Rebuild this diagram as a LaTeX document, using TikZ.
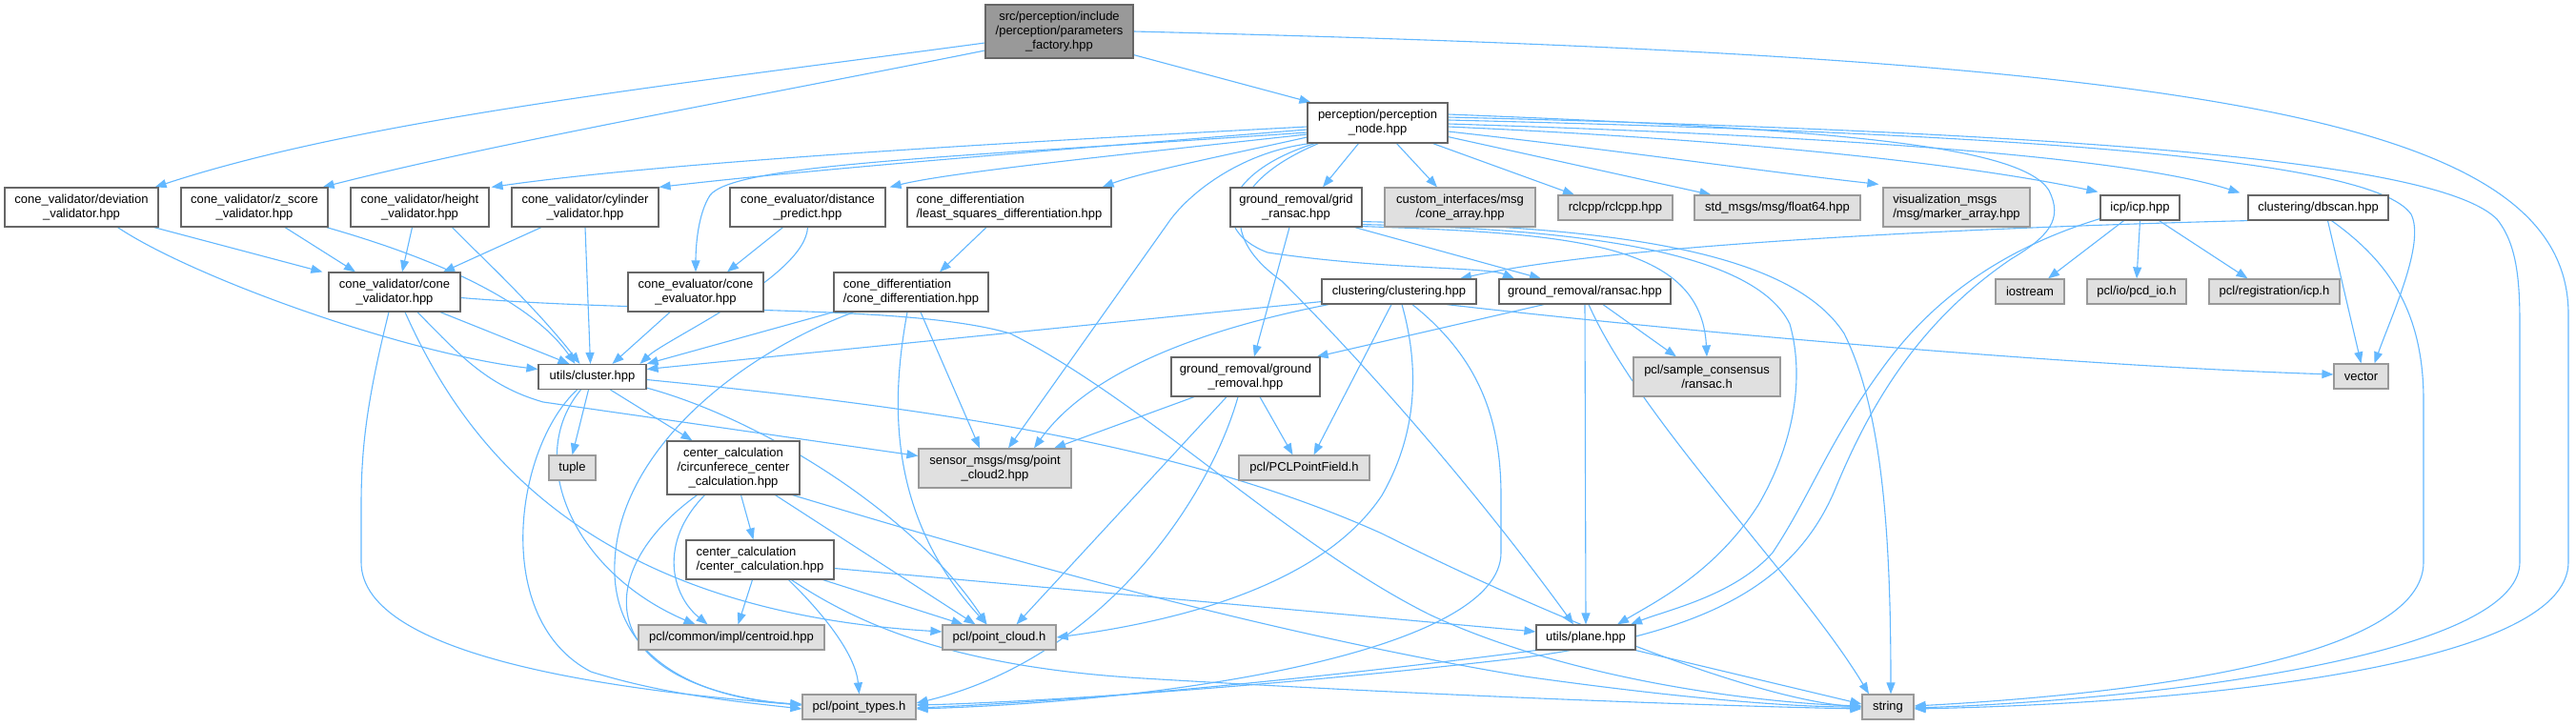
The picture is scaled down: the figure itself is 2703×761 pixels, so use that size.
\documentclass[tikz,border=0pt]{standalone}
\usepackage{fontspec}
\setmainfont{Liberation Sans}
\usetikzlibrary{arrows.meta,backgrounds}
\definecolor{eb}{HTML}{63B8FF}
\definecolor{gA}{HTML}{666666}
\definecolor{gB}{HTML}{999999}
\definecolor{gC}{HTML}{E0E0E0}
\tikzset{
  nd/.style={draw=gA, fill=white, line width=1.2pt, inner sep=0pt, font=\fontsize{13}{15}\selectfont, align=center, text=black},
  ext/.style={nd, draw=gB, fill=gC},
  root/.style={nd, draw=gA, fill=gB},
  lnk/.style={draw=eb, line width=1.1pt, -{Triangle[length=12pt,width=9pt]}},
}
\begin{document}
\begin{tikzpicture}[x=1pt,y=-1pt]
\useasboundingbox (0,0) rectangle (2703,761);
% nodes
\node[root, minimum width=155pt, minimum height=56pt] (P) at (1111.5,33) {src/perception/include\\/perception/parameters\\\_factory.hpp};
\node[nd, minimum width=147pt, minimum height=42pt] (N) at (1445.5,129) {perception/perception\\\_node.hpp};
\node[nd, minimum width=161pt, minimum height=41pt] (dev) at (85.5,217.5) {cone\_validator/deviation\\\_validator.hpp};
\node[nd, minimum width=154pt, minimum height=41pt] (zs) at (267,217.5) {cone\_validator/z\_score\\\_validator.hpp};
\node[nd, minimum width=145pt, minimum height=41pt] (hv) at (440.5,217.5) {cone\_validator/height\\\_validator.hpp};
\node[nd, minimum width=154pt, minimum height=41pt] (cyl) at (614,217.5) {cone\_validator/cylinder\\\_validator.hpp};
\node[nd, minimum width=163pt, minimum height=41pt] (dp) at (847.5,217.5) {cone\_evaluator/distance\\\_predict.hpp};
\node[nd, align=left, minimum width=214pt, minimum height=41pt] (lsq) at (1059,217.5) {cone\_differentiation\\/least\_squares\_differentiation.hpp};
\node[nd, minimum width=138pt, minimum height=41pt] (grid) at (1360,217.5) {ground\_removal/grid\\\_ransac.hpp};
\node[ext, minimum width=158pt, minimum height=41pt] (cust) at (1532,217.5) {custom\_interfaces/msg\\/cone\_array.hpp};
\node[ext, minimum width=120pt, minimum height=26pt] (rcl) at (1695,218) {rclcpp/rclcpp.hpp};
\node[ext, minimum width=174pt, minimum height=26pt] (std) at (1865,218) {std\_msgs/msg/float64.hpp};
\node[ext, align=left, minimum width=154pt, minimum height=41pt] (vis) at (2053,217.5) {visualization\_msgs\\/msg/marker\_array.hpp};
\node[nd, minimum width=83pt, minimum height=26pt] (icp) at (2245.5,218) {icp/icp.hpp};
\node[nd, minimum width=147pt, minimum height=26pt] (dbs) at (2432.5,218) {clustering/dbscan.hpp};
\node[nd, minimum width=138pt, minimum height=41pt] (cv) at (414,306.5) {cone\_validator/cone\\\_validator.hpp};
\node[nd, minimum width=142pt, minimum height=41pt] (ce) at (730,306.5) {cone\_evaluator/cone\\\_evaluator.hpp};
\node[nd, align=left, minimum width=162pt, minimum height=41pt] (cd) at (956,306.5) {cone\_differentiation\\/cone\_differentiation.hpp};
\node[nd, minimum width=162pt, minimum height=26pt] (clu) at (1468,306) {clustering/clustering.hpp};
\node[nd, minimum width=180pt, minimum height=26pt] (ran) at (1663,306) {ground\_removal/ransac.hpp};
\node[ext, minimum width=72pt, minimum height=26pt] (ios) at (2130,306) {iostream};
\node[ext, minimum width=104pt, minimum height=26pt] (pcd) at (2242,306) {pcl/io/pcd\_io.h};
\node[ext, minimum width=137pt, minimum height=26pt] (icph) at (2386.5,306) {pcl/registration/icp.h};
\node[nd, minimum width=113pt, minimum height=26pt] (cl) at (621.5,395.5) {utils/cluster.hpp};
\node[nd, minimum width=156pt, minimum height=41pt] (gr) at (1307,395.5) {ground\_removal/ground\\\_removal.hpp};
\node[ext, minimum width=154pt, minimum height=41pt] (sac) at (1791,395.5) {pcl/sample\_consensus\\/ransac.h};
\node[ext, minimum width=57pt, minimum height=26pt] (vec) at (2477.5,395) {vector};
\node[ext, minimum width=49pt, minimum height=26pt] (tup) at (600.5,491) {tuple};
\node[nd, minimum width=139pt, minimum height=56pt] (circ) at (769.5,491) {center\_calculation\\/circunferece\_center\\\_calculation.hpp};
\node[ext, minimum width=160pt, minimum height=41pt] (sm) at (1044,491.5) {sensor\_msgs/msg/point\\\_cloud2.hpp};
\node[ext, minimum width=137pt, minimum height=26pt] (pf) at (1368.5,491) {pcl/PCLPointField.h};
\node[nd, align=left, minimum width=155pt, minimum height=41pt] (cc) at (797.5,587.5) {center\_calculation\\/center\_calculation.hpp};
\node[ext, minimum width=195pt, minimum height=26pt] (cen) at (767.5,669) {pcl/common/impl/centroid.hpp};
\node[ext, minimum width=119pt, minimum height=26pt] (pcc) at (1048.5,669) {pcl/point\_cloud.h};
\node[nd, minimum width=104pt, minimum height=26pt] (plane) at (1664,669) {utils/plane.hpp};
\node[ext, minimum width=119pt, minimum height=26pt] (ptypes) at (901.5,742) {pcl/point\_types.h};
\node[ext, minimum width=54pt, minimum height=26pt] (strg) at (1981,742) {string};
% edges
\begin{pgfonlayer}{background}
\fill[white] (0,0) rectangle (2703,761);
% root
\draw[lnk] ([shift={(0,12)}]P.west) .. controls (700,90) and (380,125) .. ([shift={(-4,0)}]dev.north east);
\draw[lnk] ([shift={(0,20)}]P.west) .. controls (800,100) and (520,150) .. ([shift={(-6,0)}]zs.north east);
\draw[lnk] ([shift={(0,-4)}]P.south east) -- ([shift={(4,0)}]N.north west);
\draw[lnk] (P.east) .. controls (2300,60) and (2695,120) .. (2695,330) -- (2695,590) .. controls (2695,700) and (2300,738) .. ([shift={(0,2)}]strg.east);
% perception node
\draw[lnk] ([shift={(0,4)}]N.west) .. controls (1050,150) and (700,170) .. ([shift={(2,0)}]hv.north east);
\draw[lnk] ([shift={(0,7)}]N.west) .. controls (1100,158) and (850,178) .. (cyl.north east);
\draw[lnk] ([shift={(0,10)}]N.west) .. controls (1000,165) and (770,172) .. (745,205) .. controls (732,225) and (730,260) .. (ce.north);
\draw[lnk] ([shift={(0,12)}]N.west) .. controls (1200,160) and (1000,180) .. ([shift={(4,0)}]dp.north east);
\draw[lnk] ([shift={(0,15)}]N.west) .. controls (1300,160) and (1200,180) .. ([shift={(-10,0)}]lsq.north east);
\draw[lnk] ([shift={(3,0)}]N.south west) .. controls (1300,160) and (1245,205) .. (1225,235) -- ([shift={(14,0)}]sm.north);
\draw[lnk] ([shift={(8,0)}]N.south west) .. controls (1285,180) and (1265,240) .. (1330,265) .. controls (1450,283) and (1560,280) .. ([shift={(-74,0)}]ran.north);
\draw[lnk] ([shift={(12,0)}]N.south west) .. controls (1290,190) and (1275,245) .. (1345,295) .. controls (1450,400) and (1560,530) .. ([shift={(-13,0)}]plane.north);
\draw[lnk] ([shift={(-20,0)}]N.south) -- ([shift={(28,0)}]grid.north);
\draw[lnk] ([shift={(20,0)}]N.south) -- ([shift={(-24,0)}]cust.north);
\draw[lnk] ([shift={(-16,0)}]N.south east) -- ([shift={(-43,0)}]rcl.north);
\draw[lnk] ([shift={(0,-7)}]N.south east) -- ([shift={(18,0)}]std.north west);
\draw[lnk] ([shift={(0,9)}]N.east) .. controls (1700,158) and (1850,180) .. ([shift={(-4,-3)}]vis.north west);
\draw[lnk] ([shift={(0,4)}]N.east) .. controls (1900,150) and (2100,180) .. ([shift={(-2,-3)}]icp.north west);
\draw[lnk] ([shift={(0,1)}]N.east) .. controls (2000,145) and (2250,170) .. ([shift={(-8,-2)}]dbs.north west);
\draw[lnk] ([shift={(0,-3)}]N.east) .. controls (2100,140) and (2490,165) .. (2530,225) .. controls (2545,255) and (2510,330) .. ([shift={(14,0)}]vec.north);
\draw[lnk] ([shift={(0,-6)}]N.east) .. controls (2200,140) and (2560,170) .. (2620,230) .. controls (2640,255) and (2644,290) .. (2644,340) -- (2644,590) .. controls (2644,690) and (2250,735) .. ([shift={(0,1)}]strg.east);
\draw[lnk] ([shift={(0,-9)}]N.east) .. controls (1900,135) and (2120,150) .. (2150,200) .. controls (2165,230) and (2150,248) .. (2110,272) .. controls (2010,340) and (1960,430) .. (1925,515) .. controls (1880,620) and (1780,665) .. (1600,690) .. controls (1300,725) and (1050,738) .. ([shift={(0,-2)}]ptypes.east);
% icp
\draw[lnk] ([shift={(0,-2)}]icp.south west) .. controls (2120,255) and (2040,300) .. (1980,380) .. controls (1920,460) and (1900,520) .. (1860,580) .. controls (1820,625) and (1750,640) .. ([shift={(47,0)}]plane.north);
\draw[lnk] ([shift={(-17,0)}]icp.south) -- ([shift={(19,0)}]ios.north);
\draw[lnk] (icp.south) -- (pcd.north);
\draw[lnk] ([shift={(20,0)}]icp.south) -- ([shift={(-28,0)}]icph.north);
% grid ransac
\draw[lnk] ([shift={(0,-3)}]grid.south east) .. controls (1650,240) and (1840,262) .. (1878,340) .. controls (1895,400) and (1880,470) .. (1845,530) .. controls (1800,600) and (1740,630) .. ([shift={(33,0)}]plane.north);
\draw[lnk] ([shift={(0,-6)}]grid.south east) .. controls (1700,238) and (1880,265) .. (1935,350) .. controls (1975,430) and (1984,560) .. ([shift={(3,0)}]strg.north);
\draw[lnk] ([shift={(0,-1)}]grid.south east) .. controls (1650,245) and (1785,255) .. (sac.north);
\draw[lnk] ([shift={(-8,0)}]grid.south east) -- ([shift={(-46,0)}]ran.north);
\draw[lnk] ([shift={(-7,0)}]grid.south) -- ([shift={(9,0)}]gr.north);
% dbscan
\draw[lnk] (dbs.south west) .. controls (2100,238) and (1700,255) .. ([shift={(64,0)}]clu.north);
\draw[lnk] ([shift={(10,0)}]dbs.south) -- (vec.north);
\draw[lnk] ([shift={(14,0)}]dbs.south) .. controls (2500,270) and (2543,320) .. (2543,420) -- (2543,590) .. controls (2543,690) and (2250,728) .. ([shift={(0,-1)}]strg.east);
% ransac
\draw[lnk] ([shift={(-43,0)}]ran.south) -- ([shift={(-4,0)}]gr.north east);
\draw[lnk] (ran.south) -- (plane.north);
\draw[lnk] ([shift={(4,0)}]ran.south) .. controls (1720,440) and (1890,610) .. ([shift={(-20,0)}]strg.north);
\draw[lnk] ([shift={(19,0)}]ran.south) -- ([shift={(-32,0)}]sac.north);
% clustering
\draw[lnk] ([shift={(0,-3)}]clu.south west) -- ([shift={(0,-8)}]cl.east);
\draw[lnk] ([shift={(-74,0)}]clu.south) .. controls (1290,340) and (1150,380) .. ([shift={(41,0)}]sm.north);
\draw[lnk] ([shift={(-8,0)}]clu.south) -- ([shift={(10,0)}]pf.north);
\draw[lnk] ([shift={(3,0)}]clu.south) .. controls (1488,380) and (1490,450) .. (1450,520) .. controls (1390,610) and (1250,650) .. (pcc.east);
\draw[lnk] ([shift={(14,0)}]clu.south) .. controls (1545,370) and (1575,430) .. (1575,520) -- (1575,580) .. controls (1575,680) and (1250,735) .. ([shift={(0,2)}]ptypes.east);
\draw[lnk] ([shift={(50,0)}]clu.south) .. controls (1800,352) and (2200,385) .. ([shift={(0,-2)}]vec.west);
% ground removal
\draw[lnk] ([shift={(-54,0)}]gr.south) -- ([shift={(62,0)}]sm.north);
\draw[lnk] ([shift={(15,0)}]gr.south) -- ([shift={(-12,0)}]pf.north);
\draw[lnk] ([shift={(-20,0)}]gr.south) -- ([shift={(18,0)}]pcc.north);
\draw[lnk] ([shift={(-8,0)}]gr.south) .. controls (1270,520) and (1160,690) .. ([shift={(0,-4)}]ptypes.east);
% plane
\draw[lnk] (plane.south west) .. controls (1400,710) and (1150,735) .. ([shift={(0,1)}]ptypes.east);
\draw[lnk] (plane.south east) -- ([shift={(0,-3)}]strg.west);
% cone validator
\draw[lnk] ([shift={(48,0)}]cv.south) -- ([shift={(-24,0)}]cl.north);
\draw[lnk] ([shift={(-6,0)}]cv.south) .. controls (385,420) and (379,470) .. (379,530) -- (379,590) .. controls (379,690) and (650,725) .. ([shift={(0,-2)}]ptypes.west);
\draw[lnk] ([shift={(24,0)}]cv.south) .. controls (480,370) and (510,405) .. (570,422) -- ([shift={(0,-13)}]sm.west);
\draw[lnk] ([shift={(11,0)}]cv.south) .. controls (480,450) and (600,640) .. ([shift={(0,-6)}]pcc.west);
\draw[lnk] ([shift={(0,6)}]cv.east) .. controls (700,330) and (950,318) .. (1060,350) .. controls (1200,420) and (1350,570) .. (1500,645) .. controls (1650,715) and (1850,738) .. ([shift={(0,-1)}]strg.west);
% cluster
\draw[lnk] ([shift={(-4,0)}]cl.south) -- (tup.north);
\draw[lnk] ([shift={(19,0)}]cl.south) -- ([shift={(-43,0)}]circ.north);
\draw[lnk] ([shift={(0,-2)}]cl.south east) .. controls (800,440) and (960,540) .. ([shift={(-13,0)}]pcc.north);
\draw[lnk] ([shift={(0,3)}]cl.east) .. controls (1000,430) and (1250,470) .. (1450,560) .. controls (1650,660) and (1850,735) .. (strg.west);
\draw[lnk] ([shift={(-16,0)}]cl.south) .. controls (540,470) and (515,650) .. (620,705) .. controls (700,730) and (780,737) .. ([shift={(0,2)}]ptypes.west);
\draw[lnk] ([shift={(-12,0)}]cl.south) .. controls (550,480) and (600,600) .. ([shift={(-38,0)}]cen.north);
% circunferece
\draw[lnk] ([shift={(8,0)}]circ.south) -- ([shift={(-7,0)}]cc.north);
\draw[lnk] ([shift={(-30,0)}]circ.south) .. controls (690,570) and (705,625) .. ([shift={(-25,0)}]cen.north);
\draw[lnk] ([shift={(-38,0)}]circ.south) .. controls (620,600) and (620,720) .. ([shift={(0,-2)}]ptypes.west);
\draw[lnk] ([shift={(44,0)}]circ.south) -- ([shift={(-25,0)}]pcc.north);
\draw[lnk] ([shift={(-8,0)}]circ.south east) .. controls (1000,570) and (1300,660) .. (1600,710) .. controls (1800,738) and (1900,742) .. (strg.west);
% center calculation
\draw[lnk] ([shift={(-8,0)}]cc.south) -- ([shift={(7,0)}]cen.north);
\draw[lnk] ([shift={(30,0)}]cc.south) .. controls (870,650) and (898,690) .. (ptypes.north);
\draw[lnk] ([shift={(-12,0)}]cc.south east) -- ([shift={(-38,0)}]pcc.north);
\draw[lnk] ([shift={(0,9)}]cc.east) -- ([shift={(0,-6)}]plane.west);
\draw[lnk] ([shift={(33,0)}]cc.south) .. controls (900,655) and (1000,700) .. (1200,712) .. controls (1500,730) and (1800,741) .. ([shift={(0,2)}]strg.west);
% cone differentiation
\draw[lnk] (cd.south west) -- (cl.north east);
\draw[lnk] ([shift={(10,0)}]cd.south) -- ([shift={(-16,0)}]sm.north);
\draw[lnk] ([shift={(-4,0)}]cd.south) .. controls (935,420) and (930,540) .. ([shift={(-13,0)}]pcc.north);
\draw[lnk] ([shift={(-60,0)}]cd.south) .. controls (780,370) and (650,470) .. (645,590) .. controls (640,700) and (750,735) .. ([shift={(0,-3)}]ptypes.west);
\draw[lnk] ([shift={(-24,0)}]lsq.south) -- ([shift={(30,0)}]cd.north);
% evaluators and validators
\draw[lnk] ([shift={(-27,0)}]ce.south) -- ([shift={(21,0)}]cl.north);
\draw[lnk] ([shift={(-26,0)}]dp.south) -- ([shift={(33,0)}]ce.north);
\draw[lnk] (dp.south) .. controls (845,290) and (700,355) .. ([shift={(50,0)}]cl.north);
\draw[lnk] ([shift={(-46,0)}]cyl.south) -- ([shift={(51,0)}]cv.north);
\draw[lnk] (cyl.south) -- ([shift={(-2,0)}]cl.north);
\draw[lnk] ([shift={(-8,0)}]hv.south) -- ([shift={(8,0)}]cv.north);
\draw[lnk] ([shift={(34,0)}]hv.south) .. controls (500,265) and (560,320) .. ([shift={(-13,0)}]cl.north);
\draw[lnk] ([shift={(32,0)}]zs.south) -- ([shift={(-41,0)}]cv.north);
\draw[lnk] ([shift={(-2,0)}]zs.south east) .. controls (470,275) and (560,320) .. ([shift={(-18,0)}]cl.north);
\draw[lnk] ([shift={(-5,0)}]dev.south east) -- ([shift={(-6,0)}]cv.north west);
\draw[lnk] ([shift={(38,0)}]dev.south) .. controls (200,290) and (420,370) .. ([shift={(0,-8)}]cl.west);
\end{pgfonlayer}
\end{tikzpicture}
\end{document}
